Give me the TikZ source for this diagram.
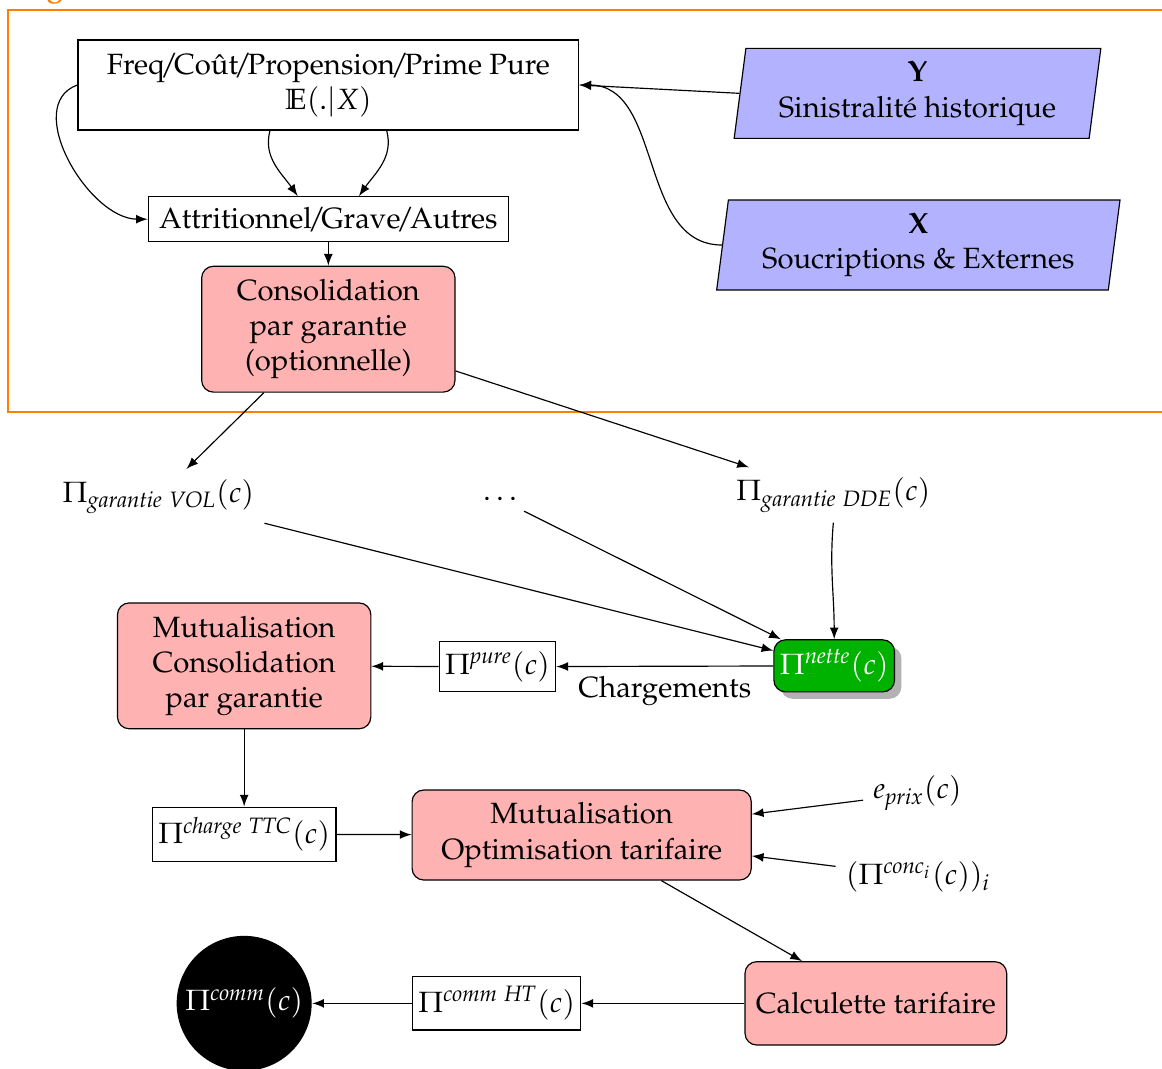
\documentclass[tikz,border=0pt]{standalone}
\usepackage[T1]{fontenc}
\usepackage{mathpazo}
\usetikzlibrary{shapes.geometric,shadows}

\newcommand{\barre}{\kern-1.4pt/\kern-1.4pt}

\begin{document}
\begin{tikzpicture}[
        boite/.style={rectangle, draw=black, fill=white, align=center},
        formule/.style={boite, inner xsep=2pt},
        traitement/.style={rectangle, rounded corners, draw=black, fill=red!30, align=center},
        donnees/.style={trapezium, trapezium left angle=82, trapezium right angle=98, trapezium stretches body=true, draw=black, fill=blue!30, align=center, minimum height=1.08cm},
        prime/.style={rectangle, rounded corners, draw=black, fill=green!70!black, text=white, inner xsep=2pt, drop shadow={opacity=1, fill=black!30}},
        sortie/.style={circle, fill=black, text=white, inner sep=0pt, minimum size=1.62cm},
    ]
    \useasboundingbox (0,0) rectangle (13.944,-12.816);
    %Cadre
    \draw[orange] (14.2,-0.12) -- (0.096,-0.12) -- (0.096,-4.944) -- (14.2,-4.944);
    \node[orange, anchor=base] (titre) at (0.66,0.04) {\bfseries g};

    %Nodes
    \node[boite, minimum width=6.01cm, minimum height=1.08cm] (freq) at (3.94,-1.02) {Freq\barre Coût\barre Propension\barre Prime Pure\\$\mathbb{E}(.|X)$};
    \node[boite, minimum width=4.32cm, minimum height=0.54cm] (attr) at (3.94,-2.63) {Attritionnel\barre Grave\barre Autres};
    \node[traitement, minimum width=3.04cm, minimum height=1.51cm] (consol) at (3.94,-3.95) {Consolidation\\par garantie\\(optionnelle)};
    \node[donnees, minimum width=4.4cm] (histo) at (11.01,-1.12) {\textbf{Y}\\Sinistralité historique};
    \node[donnees, minimum width=4.84cm] (souscr) at (11.02,-2.94) {\textbf{X}\\Soucriptions \& Externes};

    \node (vol) at (1.90,-5.96) {$\Pi_{\mathit{garantie\ VOL}}(c)$};
    \node (dots) at (6.0,-5.99) {$\dots$};
    \node (dde) at (10.0,-5.94) {$\Pi_{\mathit{garantie\ DDE}}(c)$};

    \node[prime, minimum width=1.42cm, minimum height=0.6cm] (nette) at (10.01,-7.99) {$\Pi^{\mathit{nette}}(c)$};
    \node[formule, minimum width=1.38cm, minimum height=0.56cm] (pure) at (5.97,-8.0) {$\Pi^{\mathit{pure}}(c)$};
    \node[traitement, minimum width=3.04cm, minimum height=1.51cm] (mutcons) at (2.93,-7.99) {Mutualisation\\Consolidation\\par garantie};
    \node[formule, minimum width=2.16cm, minimum height=0.62cm] (ttc) at (2.93,-10.01) {$\Pi^{\mathit{charge\ TTC}}(c)$};
    \node[traitement, minimum width=4.07cm, minimum height=1.08cm] (optim) at (6.98,-10.02) {Mutualisation\\Optimisation tarifaire};
    \node (eprix) at (11.01,-9.52) {$e_{\mathit{prix}}(c)$};
    \node (conc) at (11.02,-10.52) {$(\Pi^{\mathit{conc}_i}(c))_i$};
    \node[traitement, minimum width=3.14cm, minimum height=1.0cm] (calculette) at (10.51,-12.04) {Calculette tarifaire};
    \node[formule, minimum width=1.97cm, minimum height=0.59cm] (ht) at (5.96,-12.04) {$\Pi^{\mathit{comm\ HT}}(c)$};
    \node[sortie] (comm) at (2.93,-12.04) {$\Pi^{\mathit{comm}}(c)$};

    %Lines
    \draw[-latex] (freq.west) to[out=200, in=180] (attr.west);
    \draw[-latex] (freq.218) to[out=-105, in=125] (attr.143);
    \draw[-latex] (freq.322) to[out=-75, in=55] (attr.37);
    \draw[-latex] (attr) -- (consol);
    \draw[-latex] (histo.west) -- (freq.east);
    \draw[-latex] (souscr.west) to[out=180, in=0] (freq.east);
    \draw[-latex] (consol) -- (vol);
    \draw[-latex] (consol) -- (dde);
    \draw[-latex] (vol) -- (nette);
    \draw[-latex] (dots) -- (nette);
    \draw[-latex] (dde.south) to[out=-95, in=90] (nette.north);
    \draw[-latex] (nette) -- node[below] {Chargements} (pure);
    \draw[-latex] (pure) -- (mutcons);
    \draw[-latex] (mutcons) -- (ttc);
    \draw[-latex] (ttc) -- (optim);
    \draw[-latex] (eprix) -- (optim.7);
    \draw[-latex] (conc) -- (optim.-7);
    \draw[-latex] (optim) -- (calculette);
    \draw[-latex] (calculette) -- (ht);
    \draw[-latex] (ht) -- (comm);
\end{tikzpicture}
\end{document}
